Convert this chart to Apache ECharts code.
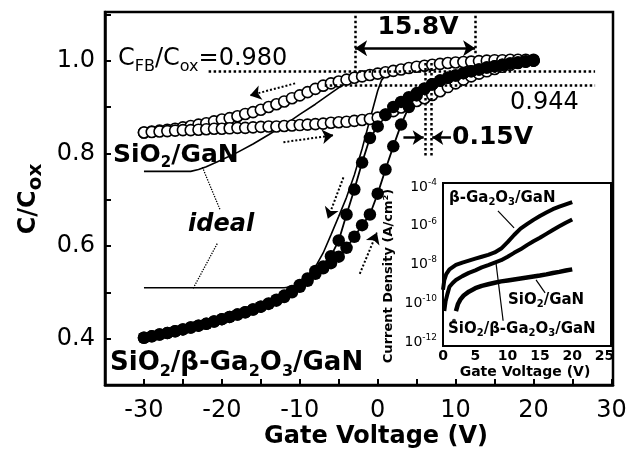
<!DOCTYPE html>
<html><head><meta charset="utf-8">
<script src="https://cdn.jsdelivr.net/npm/echarts@6/dist/echarts.min.js"></script>
<style>html,body{margin:0;padding:0;background:#fff}#c{width:634px;height:454px}</style>
</head><body><div id="c"></div>
<script>
// ---------------- data (main C-V plot) ----------------
const sweepV = [-30,-29,-28,-27,-26,-25,-24,-23,-22,-21,-20,-19,-18,-17,-16,-15,-14,-13,-12,-11,-10,-9,-8,-7,-6,-5,-4,-3,-2,-1,0,1,2,3,4,5,6,7,8,9,10,11,12,13,14,15,16,17,18,19,20];
// SiO2/GaN (open circles): forward (lower) and reverse (upper) sweeps
const openFwdC = [0.845,0.846,0.847,0.848,0.849,0.850,0.850,0.851,0.852,0.853,
  0.853,0.854,0.855,0.855,0.856,0.857,0.858,0.858,0.859,0.860,
  0.861,0.862,0.863,0.864,0.866,0.867,0.868,0.870,0.872,0.874,
  0.877,0.883,0.891,0.899,0.906,0.913,0.919,0.926,0.934,0.943,0.951,
  0.959,0.966,0.972,0.977,0.982,0.987,0.991,0.995,0.998,1.000];
const openRevC = [0.845,0.847,0.849,0.851,0.853,0.856,0.859,0.862,0.865,0.869,
  0.873,0.876,0.880,0.885,0.889,0.894,0.900,0.906,0.912,0.919,
  0.925,0.932,0.939,0.946,0.951,0.955,0.959,0.963,0.966,0.969,
  0.972,0.975,0.978,0.981,0.984,0.987,0.989,0.991,0.993,0.995,0.996,
  0.997,0.998,0.999,1.000,1.001,1.001,1.002,1.002,1.002,1.002];
// SiO2/beta-Ga2O3/GaN (filled circles): forward (right) and reverse (left) sweeps
const filledFwdC = [0.402,0.405,0.409,0.412,0.416,0.420,0.424,0.428,0.432,0.437,
  0.442,0.447,0.452,0.457,0.463,0.469,0.475,0.482,0.490,0.500,
  0.512,0.525,0.540,0.552,0.563,0.577,0.596,0.620,0.645,0.668,
  0.713,0.765,0.815,0.862,0.900,0.925,0.939,0.949,0.957,0.963,0.968,
  0.973,0.977,0.981,0.985,0.988,0.991,0.994,0.996,0.998,1.000];
const filledRevC = [0.402,0.405,0.409,0.412,0.416,0.420,0.424,0.428,0.432,0.437,
  0.442,0.447,0.452,0.457,0.463,0.469,0.476,0.484,0.493,0.503,
  0.516,0.530,0.546,0.556,0.578,0.612,0.668,0.722,0.780,0.833,
  0.858,0.884,0.900,0.911,0.921,0.930,0.940,0.949,0.957,0.963,0.968,
  0.973,0.977,0.981,0.985,0.988,0.991,0.994,0.996,0.998,1.000];
// ideal curves
const idealGaNV = [-30,-27,-24,-23,-22,-20,-18,-16,-14,-12,-10,-8,-6,-4,-2,0,4,8,12,16,20];
const idealGaNC = [0.761,0.761,0.761,0.765,0.771,0.786,0.802,0.820,0.840,0.861,0.884,0.906,0.930,0.953,0.965,0.973,0.984,0.991,0.996,0.999,1.001];
const idealBetaV = [-30,-25,-20,-15,-12,-11,-10,-9,-8,-7,-6,-5,-4,-3,-2,-1,0,0.5,1,2,4,8,12,16,20];
const idealBetaC = [0.510,0.510,0.510,0.510,0.510,0.512,0.519,0.533,0.555,0.585,0.624,0.664,0.705,0.753,0.810,0.873,0.935,0.958,0.968,0.978,0.987,0.994,0.997,0.999,1.000];
// annotation guides (data coordinates)
const guideLines = [
  [[-21.7,0.977],[27.9,0.977]],
  [[-6.8,0.947],[27.9,0.947]],
  [[-2.9,1.097],[-2.9,0.975]],
  [[12.5,1.097],[12.5,1.016]],
  [[6.1,0.995],[6.1,0.795]],
  [[6.9,0.995],[6.9,0.795]]
];
const sweepArrows = [
  [[-10.6,0.951],[-16.4,0.925]],
  [[-12.1,0.824],[-5.7,0.839]],
  [[-4.4,0.748],[-6.4,0.659]],
  [[-2.3,0.540],[-0.1,0.629]]
];
const shiftArrow = [[-2.9,1.027],[12.5,1.027]];
const smallArrows = [
  [[3.3,0.834],[5.9,0.834]],
  [[9.4,0.834],[7.0,0.834]]
];
const pointerLines = [
  [[-22.5,0.770],[-20.2,0.677]],
  [[-20.6,0.605],[-23.7,0.508]]
];
// tick labels
const xTickLabels = [-30,-20,-10,0,10,20,30];
const yTickLabels = [0.4,0.6,0.8,1.0];
// ---------------- data (inset J-V plot, log10 J) ----------------
const insetBetaV = [0,0.2,0.5,1,2,3,4,5,6,7,8,9,10,11,12,13,14,15,16,17,18,19,20];
const insetBetaLogJ = [-9.3,-8.8,-8.5,-8.25,-8.02,-7.9,-7.8,-7.7,-7.6,-7.5,-7.38,-7.18,-6.85,-6.48,-6.15,-5.92,-5.7,-5.5,-5.32,-5.15,-5.02,-4.9,-4.78];
const insetStackV = [0.2,0.4,0.7,1,1.5,2,3,4,5,6,7,8,9,10,11,12,13,14,15,16,17,18,19,20];
const insetStackLogJ = [-10.4,-9.9,-9.5,-9.15,-8.95,-8.8,-8.6,-8.43,-8.3,-8.15,-8.03,-7.9,-7.78,-7.6,-7.4,-7.22,-7.0,-6.8,-6.62,-6.42,-6.22,-6.03,-5.85,-5.68];
const insetSiO2V = [2,2.3,2.7,3.2,4,5,6,7,8,9,10,11,12,13,14,15,16,17,18,19,20];
const insetSiO2LogJ = [-10.4,-10.05,-9.8,-9.6,-9.4,-9.22,-9.1,-9.02,-8.94,-8.87,-8.82,-8.77,-8.72,-8.67,-8.62,-8.57,-8.51,-8.44,-8.38,-8.31,-8.25];
const insetSiO2Start = [[1.7,-10.9]];
const insetPointers = [
  [[8.5,-5.24],[11.0,-6.11]],
  [[14.4,-8.79],[15.8,-9.46]],
  [[8.2,-7.92],[9.3,-10.9]]
];
const insetXTicks = [0,5,10,15,20,25];
const insetYExp = [-12,-10,-8,-6,-4];

// ---------------- chart ----------------
const FONT = 'DejaVu Sans';
const pairs = (xs, ys) => xs.map((x, i) => [x, ys[i]]);
const chart = echarts.init(document.getElementById('c'), null, {renderer: 'canvas'});

function lineSeries(xi, data, width) {
  return {type:'line', xAxisIndex:xi, yAxisIndex:xi, data:data, showSymbol:false, symbol:'none',
    lineStyle:{color:'#000', width:width}, silent:true, z:2};
}
function linesSeries(data, opts) {
  return Object.assign({type:'lines', coordinateSystem:'cartesian2d', xAxisIndex:0, yAxisIndex:0,
    polyline:false, silent:true, z:4, data:data.map(c => ({coords:c}))}, opts);
}

const rich = {
  n:{fontSize:24, fontFamily:FONT, fill:'#000'},
  s:{fontSize:16, fontFamily:FONT, fill:'#000', padding:[16,0,0,0]},
  b:{fontSize:25, fontFamily:FONT, fontWeight:'bold', fill:'#000'},
  bs:{fontSize:15, fontFamily:FONT, fontWeight:'bold', fill:'#000', padding:[16,0,0,0]},
  L:{fontSize:26, fontFamily:FONT, fontWeight:'bold', fill:'#000'},
  Ls:{fontSize:16, fontFamily:FONT, fontWeight:'bold', fill:'#000', padding:[17,0,0,0]},
  i:{fontSize:15, fontFamily:FONT, fontWeight:'bold', fill:'#000'},
  is:{fontSize:10, fontFamily:FONT, fontWeight:'bold', fill:'#000', padding:[9,0,0,0]}
};
function txt(x, y, text, align, extra) {
  return Object.assign({type:'text', x:x, y:y, z:50, silent:true,
    style:{text:text, rich:rich, align:align || 'left', verticalAlign:'middle', fill:'#000'}}, extra || {});
}

const option = {
  animation:false,
  backgroundColor:'#fff',
  grid:[
    {left:105, top:12, width:508, height:373, show:true, borderColor:'#000', borderWidth:2.5, backgroundColor:'rgba(0,0,0,0)'},
    {left:443, top:183, width:168, height:163, show:true, borderColor:'#000', borderWidth:2, backgroundColor:'#fff'}
  ],
  xAxis:[
    {gridIndex:0, type:'value', min:-35, max:30.2, interval:5,
      axisLine:{show:true, onZero:false, lineStyle:{color:'#000', width:2.5}},
      axisTick:{show:true, inside:true, length:6, lineStyle:{color:'#000', width:2}},
      axisLabel:{color:'#000', fontSize:24, fontFamily:FONT, margin:14,
        formatter:v => xTickLabels.some(t => Math.abs(t - v) < 1e-6) ? String(Math.round(v)) : ''},
      splitLine:{show:false}},
    {gridIndex:1, type:'value', min:0, max:26,
      axisLine:{show:true, onZero:false, lineStyle:{color:'#000', width:2}},
      axisTick:{show:false},
      axisLabel:{customValues:insetXTicks, color:'#000', fontSize:14, fontWeight:'bold', fontFamily:FONT, margin:3},
      splitLine:{show:false}}
  ],
  yAxis:[
    {gridIndex:0, type:'value', min:0.3, max:1.105, interval:0.1,
      axisLine:{show:true, onZero:false, lineStyle:{color:'#000', width:2.5}},
      axisTick:{show:true, inside:true, length:6, lineStyle:{color:'#000', width:2}},
      axisLabel:{color:'#000', fontSize:24, fontFamily:FONT, margin:10,
        formatter:v => yTickLabels.some(t => Math.abs(t - v) < 1e-6) ? v.toFixed(1) : ''},
      splitLine:{show:false}},
    {gridIndex:1, type:'value', min:-12.2, max:-3.8,
      axisLine:{show:true, onZero:false, lineStyle:{color:'#000', width:2}},
      axisTick:{show:false},
      axisLabel:{customValues:insetYExp, margin:6,
        formatter:v => '{b|10}{s|' + v + '}',
        rich:{b:{fontSize:14, fontFamily:FONT, color:'#000'}, s:{fontSize:9, fontFamily:FONT, color:'#000', padding:[0,0,9,0]}}},
      splitLine:{show:false}}
  ],
  series:[
    lineSeries(0, pairs(idealGaNV, idealGaNC), 1.6),
    lineSeries(0, pairs(idealBetaV, idealBetaC), 1.6),
    {type:'line', xAxisIndex:0, yAxisIndex:0, data:pairs(sweepV, openRevC), symbol:'circle', symbolSize:11, showAllSymbol:true,
      lineStyle:{opacity:0}, itemStyle:{color:'#fff', borderColor:'#000', borderWidth:1.6}, silent:true, z:3},
    {type:'line', xAxisIndex:0, yAxisIndex:0, data:pairs(sweepV, openFwdC), symbol:'circle', symbolSize:11, showAllSymbol:true,
      lineStyle:{opacity:0}, itemStyle:{color:'#fff', borderColor:'#000', borderWidth:1.6}, silent:true, z:3},
    {type:'line', xAxisIndex:0, yAxisIndex:0, data:pairs(sweepV, filledRevC), symbol:'circle', symbolSize:12.5, showAllSymbol:true,
      lineStyle:{color:'#000', width:1.8}, itemStyle:{color:'#000'}, silent:true, z:3},
    {type:'line', xAxisIndex:0, yAxisIndex:0, data:pairs(sweepV, filledFwdC), symbol:'circle', symbolSize:12.5, showAllSymbol:true,
      lineStyle:{color:'#000', width:1.8}, itemStyle:{color:'#000'}, silent:true, z:3},
    linesSeries(guideLines, {symbol:['none','none'], lineStyle:{color:'#000', width:2.5, type:'dotted', opacity:1, curveness:0}}),
    linesSeries(sweepArrows, {symbol:['none','arrow'], symbolSize:11, lineStyle:{color:'#000', width:2, type:'dotted', opacity:1, curveness:0}}),
    linesSeries([shiftArrow], {symbol:['arrow','arrow'], symbolSize:12, lineStyle:{color:'#000', width:2.5, opacity:1, curveness:0}}),
    linesSeries(smallArrows, {symbol:['none','arrow'], symbolSize:11, lineStyle:{color:'#000', width:2.5, opacity:1, curveness:0}}),
    linesSeries(pointerLines, {symbol:['none','none'], lineStyle:{color:'#000', width:1.3, type:'dotted', opacity:1, curveness:0}}),
    // inset
    lineSeries(1, pairs(insetBetaV, insetBetaLogJ), 4),
    lineSeries(1, pairs(insetStackV, insetStackLogJ), 4),
    lineSeries(1, pairs(insetSiO2V, insetSiO2LogJ), 4.5),
    {type:'scatter', xAxisIndex:1, yAxisIndex:1, data:insetSiO2Start, symbolSize:4, itemStyle:{color:'#000'}, silent:true},
    linesSeries(insetPointers, {xAxisIndex:1, yAxisIndex:1, symbol:['none','none'], lineStyle:{color:'#000', width:1.2, opacity:1, curveness:0}})
  ],
  graphic:[
    txt(118, 59, '{n|C}{s|FB}{n|/C}{s|ox}{n|=0.980}'),
    txt(510, 103, '{n|0.944}'),
    txt(418, 27, '{b|15.8V}', 'center'),
    txt(452, 137, '{b|0.15V}'),
    txt(113, 155, '{b|SiO}{bs|2}{b|/GaN}'),
    txt(188, 225, 'ideal', 'left', {style:{text:'ideal', font:'italic bold 24px "DejaVu Sans"', fill:'#000', align:'left', verticalAlign:'middle'}}),
    txt(110, 363, '{L|SiO}{Ls|2}{L|/β-Ga}{Ls|2}{L|O}{Ls|3}{L|/GaN}'),
    txt(376, 437, 'Gate Voltage (V)', 'center', {style:{text:'Gate Voltage (V)', font:'bold 24px "DejaVu Sans"', fill:'#000', align:'center', verticalAlign:'middle'}}),
    {type:'text', x:29, y:199, rotation:Math.PI/2, z:50, silent:true,
      style:{text:'{a|C/C}{b|ox}', align:'center', verticalAlign:'middle',
        rich:{a:{fontSize:24, fontWeight:'bold', fontFamily:FONT, fill:'#000'}, b:{fontSize:20, fontWeight:'bold', fontFamily:FONT, fill:'#000', padding:[14,0,0,0]}}}},
    // inset texts
    txt(449, 198, '{i|β-Ga}{is|2}{i|O}{is|3}{i|/GaN}'),
    txt(508, 300, '{i|SiO}{is|2}{i|/GaN}'),
    txt(448, 329, '{i|SiO}{is|2}{i|/β-Ga}{is|2}{i|O}{is|3}{i|/GaN}'),
    txt(525, 372, 'Gate Voltage (V)', 'center', {style:{text:'Gate Voltage (V)', font:'bold 14px "DejaVu Sans"', fill:'#000', align:'center', verticalAlign:'middle'}}),
    {type:'text', x:389, y:276, rotation:Math.PI/2, z:50, silent:true,
      style:{text:'Current Density (A/cm²)', font:'bold 13px "DejaVu Sans"', fill:'#000', align:'center', verticalAlign:'middle'}}
  ]
};
chart.setOption(option);
</script>
</body></html>
